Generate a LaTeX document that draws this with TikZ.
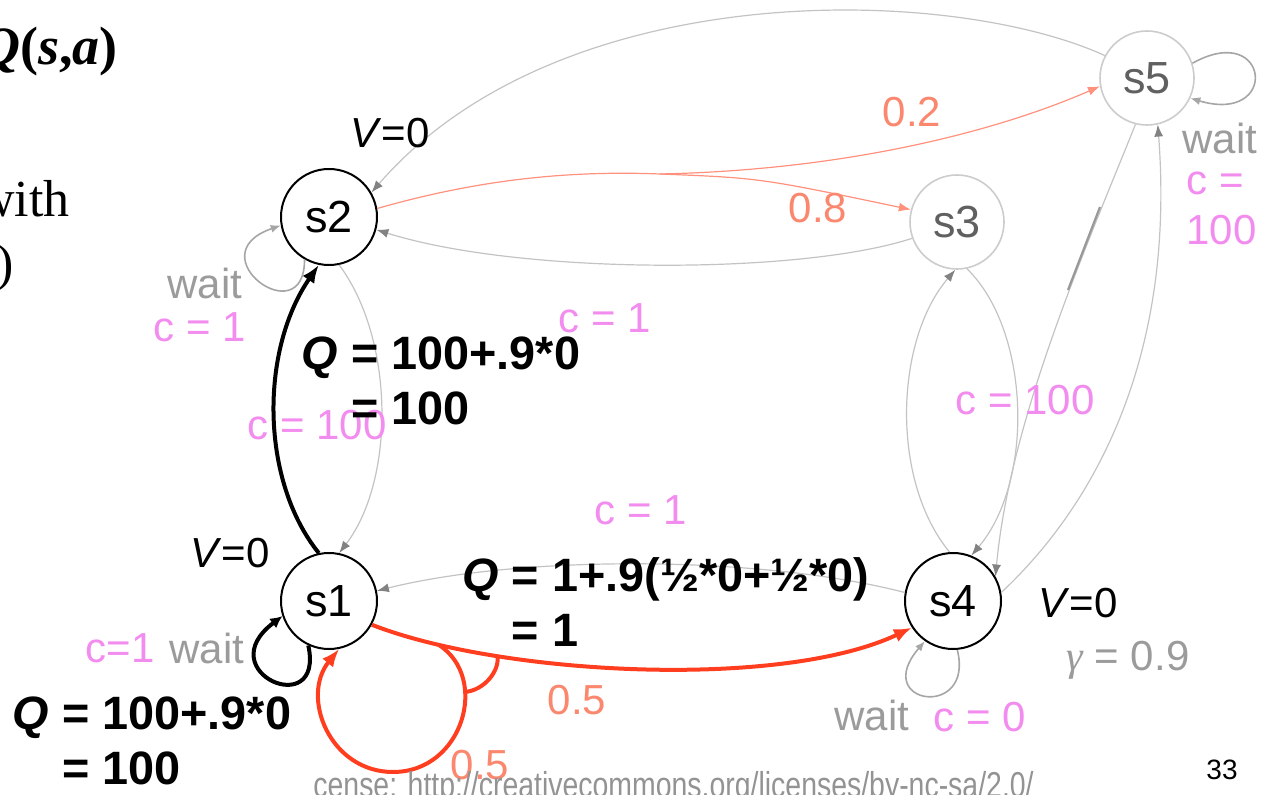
\documentclass[tikz,border=0pt]{standalone}
\usepackage{fontspec}
\setmainfont{Liberation Sans}
\newfontfamily\timesfont{Liberation Serif}
\usepackage{graphicx}
\usetikzlibrary{arrows.meta, calc}
\usepackage{xcolor}
\definecolor{pinkc}{RGB}{242,140,238}
\definecolor{waitgray}{RGB}{155,155,155}
\definecolor{probred}{RGB}{250,135,110}
\definecolor{lightred}{RGB}{255,145,125}
\definecolor{strongred}{RGB}{255,62,32}
\definecolor{edgegray}{RGB}{195,195,195}
\definecolor{tipgray}{RGB}{130,130,130}
\tikzstyle{stateon} = [circle, draw=black, line width=1pt, minimum size=48pt, inner sep=0pt, font=\fontsize{22.5}{26}\selectfont]
\tikzstyle{stateoff} = [circle, draw=gray!40, line width=0.8pt, minimum size=47pt, inner sep=0pt, text=gray!75!black, font=\fontsize{22.5}{26}\selectfont]
\tikzstyle{grayedge} = [draw=edgegray, line width=0.6pt, -{Latex[length=6pt,width=4.5pt,color=tipgray]}]
\tikzstyle{loopedge} = [draw=gray!70, line width=0.8pt, -{Latex[length=5pt,width=4pt]}]
\tikzstyle{probedge} = [draw=lightred, line width=0.6pt]
\tikzstyle{probtip} = [-{Latex[length=6pt,width=4.5pt]}]
\tikzstyle{redact} = [draw=strongred, line width=2pt]
\tikzstyle{redtip} = [-{Latex[length=9pt,width=7pt]}]
\tikzstyle{blackact} = [draw=black, line width=2pt, -{Latex[length=9pt,width=7pt]}]
\tikzstyle{vval} = [inner sep=0pt, font=\fontsize{21}{25}\selectfont]
\tikzstyle{cost} = [inner sep=0pt, text=pinkc, font=\fontsize{21}{25}\selectfont]
\tikzstyle{waitlbl} = [inner sep=0pt, text=waitgray, font=\fontsize{21}{25}\selectfont]
\tikzstyle{prob} = [inner sep=0pt, text=probred, font=\fontsize{21}{25}\selectfont]
\tikzstyle{qval} = [inner sep=0pt, align=left, font=\fontsize{23.4}{27.5}\selectfont\bfseries]

\begin{document}
\begin{tikzpicture}[x=0.5pt, y=-0.5pt]
    \useasboundingbox (0,0) rectangle (1262,795);

    % states
    \node (s2) [stateon] at (329,217) {s2};
    \node (s3) [stateoff] at (957,222) {s3};
    \node (s5) [stateoff] at (1147,78) {s5};
    \node (s1) [stateon] at (329,601) {s1};
    \node (s4) [stateon] at (953,601) {s4};

    % gray transitions
    \draw [grayedge] (s5.152) .. controls (950,-15) and (560,-25) .. (s2.30);
    \draw [grayedge] (s3.200) .. controls (800,275) and (520,275) .. (s2.-15);
    \draw [grayedge] (s2.-78) .. controls (395,340) and (395,480) .. (s1.78);
    \draw [grayedge] (s4.170) .. controls (760,555) and (520,555) .. (s1.12);
    \draw [grayedge] (s3.-78) .. controls (1030,330) and (1035,480) .. (s4.68);
    \draw [grayedge] (s4.94) .. controls (890,480) and (895,340) .. (s3.-92);
    \draw [grayedge] (s5.-104) .. controls (1085,250) and (1010,420) .. (s4.30);
    \draw [grayedge] (s4.10) .. controls (1100,500) and (1175,350) .. (s5.-77);
    \draw [draw=gray!80, line width=1.1pt] (1068,290) -- (1100,207);

    % s2 split 0.8 / 0.2
    \coordinate (split2) at (660,174);
    \draw [probedge] (s2.10) .. controls (470,182) and (560,170) .. (split2);
    \draw [probedge, probtip] (split2) .. controls (760,178) .. (s3.165);
    \draw [probedge, probtip] (split2) .. controls (850,170) and (1000,130) .. (s5.190);

    % self loops
    \draw [loopedge] (s2.240) .. controls (305,335) and (195,255) .. (s2.190);
    \draw [blackact, -{Latex[length=6pt,width=6pt]}] (s1.245) .. controls (325,722) and (208,672) .. (s1.198);
    \draw [loopedge] (s4.-85) .. controls (975,720) and (870,705) .. (s4.235);
    \draw [loopedge] (s5.18) .. controls (1270,20) and (1280,125) .. (s5.-25);

    % chosen actions
    \draw [blackact] (s1.102) .. controls (260,480) and (260,350) .. (s2.-102);
    \draw [redact, redtip] (s1.-29) .. controls (500,675) and (780,690) .. coordinate[pos=0.15] (split1) coordinate[pos=0.26] (arcA) (s4.213);
    \coordinate (loopbot) at (393,772);
    \draw [redact, redtip] (split1) .. controls (490,678) and (463,772) .. coordinate[pos=0.33] (arcB) (loopbot) .. controls (330,772) and (300,697) .. (s1.-78);
    \draw [redact] (arcA) .. controls (500,670) and (485,690) .. (arcB);

    % values
    \node (v2) [vval] at (390,133) {\textit{V}=0};
    \node (v1) [vval] at (230,553) {\textit{V}=0};
    \node (v4) [vval] at (1078,603) {\textit{V}=0};

    % costs and waits
    \node (w2) [waitlbl] at (205,283) {wait};
    \node (c2) [cost] at (200,327) {c = 1};
    \node (c1) [cost] at (120,648) {c=1};
    \node (w1) [waitlbl] at (207,648) {wait};
    \node (c21) [cost] at (605,318) {c = 1};
    \node (c12) [cost] at (317,425) {c = 100};
    \node (c34) [cost] at (1025,400) {c = 100};
    \node (c41) [cost] at (641,510) {c = 1};
    \node (w4) [waitlbl] at (872,715) {wait};
    \node (c4) [cost] at (980,717) {c = 0};
    \node (w5) [waitlbl, anchor=west] at (1182,138) {wait};
    \node (c5a) [cost, anchor=west] at (1186,183) {c =};
    \node (c5b) [cost, anchor=west] at (1186,230) {100};
    \node (gam) [waitlbl] at (1128,660) {{\timesfont\itshape γ} = 0.9};

    % probabilities
    \node (p05a) [prob] at (577,700) {0.5};
    \node (p05b) [prob] at (480,765) {0.5};
    \node (p02) [prob] at (912,112) {0.2};
    \node (p08) [prob] at (818,208) {0.8};

    % Q values
    \node (q1) [qval] at (152,745) {\textit{Q} = 100+.9*0\\\phantom{\textit{Q} }= 100};
    \node (q2) [qval] at (441,385) {\textit{Q} = 100+.9*0\\\phantom{\textit{Q} }= 100};
    \node (q3) [qval] at (666,607) {\textit{Q} = 1+.9(½*0+½*0)\\\phantom{\textit{Q} }= 1};

    % slide text
    \node (title) [anchor=east, inner sep=0pt, font=\timesfont\fontsize{27}{30}\selectfont\bfseries] at (118,52) {\textit{Q}(\textit{s},\textit{a})};
    \node (with) [anchor=base east, inner sep=0pt, font=\timesfont\fontsize{26}{30}\selectfont] at (70,217) {with};
    \node (paren) [anchor=east, inner sep=0pt, font=\timesfont\fontsize{26}{30}\selectfont] at (14,268) {)};
    \node (lic) [anchor=base west, inner sep=0pt, text=gray!85, font=\fontsize{18}{20}\selectfont] at (313,797) {\scalebox{0.79}[1]{cense: http://creativecommons.org/licenses/by-nc-sa/2.0/}};
    \node (page) [inner sep=0pt, font=\fontsize{14}{16}\selectfont] at (1222,770) {33};
\end{tikzpicture}
\end{document}
